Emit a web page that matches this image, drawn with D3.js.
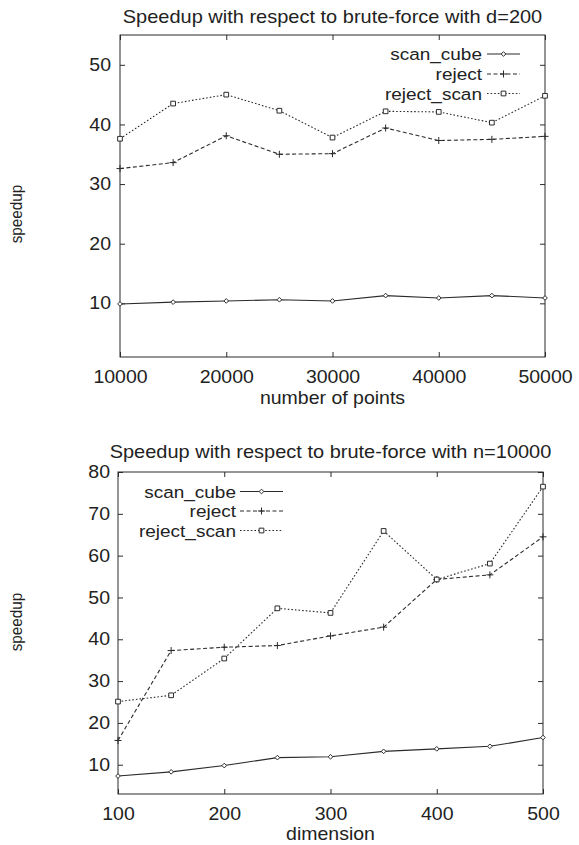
<!DOCTYPE html>
<html>
<head>
<meta charset="utf-8">
<script src="https://cdn.jsdelivr.net/npm/d3@7"></script>
<style>
  html, body { margin: 0; padding: 0; background: #fff; }
  svg { display: block; }
  text { font-family: "Liberation Sans", Arial, Helvetica, sans-serif; fill: #222; }
</style>
</head>
<body>
<svg id="chart" width="579" height="845"></svg>
<script>
// Series names shared by both panels
const seriesNames = ["scan_cube", "reject", "reject_scan"];

// Panel 1: speedup vs number of points (d = 200)
const pointCounts      = [10000, 15000, 20000, 25000, 30000, 35000, 40000, 45000, 50000];
const pointsScanCube   = [9.9, 10.2, 10.4, 10.6, 10.4, 11.3, 10.9, 11.3, 10.9];
const pointsReject     = [32.6, 33.6, 38.1, 35.0, 35.1, 39.4, 37.3, 37.5, 38.0];
const pointsRejectScan = [37.6, 43.5, 45.0, 42.3, 37.8, 42.2, 42.1, 40.3, 44.8];
const pointTicksX = [10000, 20000, 30000, 40000, 50000];
const pointTicksY = [10, 20, 30, 40, 50];

// Panel 2: speedup vs dimension (n = 10000)
const dimensions    = [100, 150, 200, 250, 300, 350, 400, 450, 500];
const dimScanCube   = [7.3, 8.3, 9.8, 11.7, 11.9, 13.2, 13.8, 14.4, 16.5];
const dimReject     = [15.8, 37.3, 38.1, 38.5, 40.8, 42.9, 54.3, 55.4, 64.5];
const dimRejectScan = [25.1, 26.6, 35.4, 47.4, 46.3, 65.9, 54.3, 58.1, 76.5];
const dimTicksX = [100, 200, 300, 400, 500];
const dimTicksY = [10, 20, 30, 40, 50, 60, 70, 80];

const ink = "#2b2b2b";
const FONT = 19.5;
const LEGEND_FONT = 19;
const TITLE_FONT = 20;
const SQUASH = 0.9;   // glyphs are slightly shorter than they are wide

// line style and marker per series
const styles = [
  { dash: null,    marker: "diamond" },
  { dash: "4,2.5", marker: "plus" },
  { dash: "1.6,2", marker: "square" }
];

const panels = [
  {
    title: "Speedup with respect to brute-force with d=200",
    xLabel: "number of points", yLabel: "speedup",
    xs: pointCounts, series: [pointsScanCube, pointsReject, pointsRejectScan],
    ticksX: pointTicksX, ticksY: pointTicksY,
    xDomain: [10000, 50000], yDomain: [1, 55],
    box: { left: 120, right: 545, top: 35, bottom: 357 },
    titleY: 23, xTickBase: 26.5, yTickPad: 9, xLabelY: 404, yLabelX: 22, yLabelY: 214,
    legend: { textRight: 482, lineX0: 487, lineX1: 520, baselines: [60, 80, 99.5] }
  },
  {
    title: "Speedup with respect to brute-force with n=10000",
    xLabel: "dimension", yLabel: "speedup",
    xs: dimensions, series: [dimScanCube, dimReject, dimRejectScan],
    ticksX: dimTicksX, ticksY: dimTicksY,
    xDomain: [100, 500], yDomain: [3, 80],
    box: { left: 118, right: 543, top: 472, bottom: 794 },
    titleY: 458, xTickBase: 26, yTickPad: 8, xLabelY: 840, yLabelX: 22, yLabelY: 622,
    legend: { textRight: 236, lineX0: 240, lineX1: 283, baselines: [497.5, 517, 536.5] }
  }
];

const svg = d3.select("#chart");

// text placed at (x, y) with the vertical squash applied around its baseline
function label(g, x, y, str, size, anchor, rotate) {
  return g.append("text")
    .attr("transform", `translate(${x},${y}) scale(1,${SQUASH})` + (rotate ? ` rotate(${rotate})` : ""))
    .attr("text-anchor", anchor).attr("font-size", size).text(str);
}

function drawMarker(g, kind, cx, cy) {
  if (kind === "diamond") {
    g.append("path")
      .attr("d", d3.symbol(d3.symbolDiamond2, 14)())
      .attr("transform", `translate(${cx},${cy})`)
      .attr("fill", "#fff").attr("stroke", ink).attr("stroke-width", 1);
  } else if (kind === "plus") {
    g.append("path")
      .attr("d", `M${cx - 3.5},${cy}H${cx + 3.5}M${cx},${cy - 3.5}V${cy + 3.5}`)
      .attr("stroke", ink).attr("stroke-width", 1).attr("fill", "none");
  } else {
    g.append("path")
      .attr("d", d3.symbol(d3.symbolSquare2, 28)())
      .attr("transform", `translate(${cx},${cy})`)
      .attr("fill", "#fff").attr("stroke", ink).attr("stroke-width", 1);
  }
}

panels.forEach(p => {
  const b = p.box;
  const x = d3.scaleLinear().domain(p.xDomain).range([b.left, b.right]);
  const y = d3.scaleLinear().domain(p.yDomain).range([b.bottom, b.top]);
  const g = svg.append("g");

  const axisStyle = sel => {
    sel.select(".domain").remove();
    sel.selectAll(".tick line").attr("stroke", ink);
    sel.selectAll("text").attr("font-size", FONT).attr("fill", "#222")
      .attr("font-family", "Liberation Sans, Arial, sans-serif");
  };

  // bottom axis: inward ticks, labels below the frame
  const xPad = p.xTickBase / SQUASH - 0.71 * FONT;
  g.append("g").attr("transform", `translate(0,${b.bottom})`)
    .call(d3.axisBottom(x).tickValues(p.ticksX).tickSizeInner(-5).tickSizeOuter(0)
      .tickPadding(xPad).tickFormat(d3.format("d")))
    .call(axisStyle)
    .call(sel => sel.selectAll("text").attr("transform", `scale(1,${SQUASH})`));
  // mirrored ticks along the top
  g.append("g").attr("transform", `translate(0,${b.top})`)
    .call(d3.axisTop(x).tickValues(p.ticksX).tickSizeInner(-5).tickSizeOuter(0).tickFormat(""))
    .call(axisStyle);
  // left axis with labels
  g.append("g").attr("transform", `translate(${b.left},0)`)
    .call(d3.axisLeft(y).tickValues(p.ticksY).tickSizeInner(-5).tickSizeOuter(0)
      .tickPadding(p.yTickPad).tickFormat(d3.format("d")))
    .call(axisStyle)
    .call(sel => sel.selectAll("text").attr("transform", `scale(1,${SQUASH})`));
  // mirrored ticks on the right
  g.append("g").attr("transform", `translate(${b.right},0)`)
    .call(d3.axisRight(y).tickValues(p.ticksY).tickSizeInner(-5).tickSizeOuter(0).tickFormat(""))
    .call(axisStyle);

  // frame
  g.append("rect")
    .attr("x", b.left).attr("y", b.top)
    .attr("width", b.right - b.left).attr("height", b.bottom - b.top)
    .attr("fill", "none").attr("stroke", ink).attr("stroke-width", 1);

  // titles and axis labels
  const cx = (b.left + b.right) / 2;
  label(g, cx, p.titleY, p.title, TITLE_FONT, "middle");
  label(g, cx, p.xLabelY, p.xLabel, FONT, "middle");
  g.append("text")
    .attr("transform", `translate(${p.yLabelX},${p.yLabelY}) scale(1,${SQUASH}) rotate(-90)`)
    .attr("text-anchor", "middle").attr("font-size", 17).text(p.yLabel);

  // series lines and markers
  const line = d3.line().x(d => x(d[0])).y(d => y(d[1]));
  p.series.forEach((vals, i) => {
    const pts = p.xs.map((xv, j) => [xv, vals[j]]);
    g.append("path").datum(pts)
      .attr("d", line)
      .attr("fill", "none").attr("stroke", ink).attr("stroke-width", 1.1)
      .attr("stroke-dasharray", styles[i].dash);
    pts.forEach(d => drawMarker(g, styles[i].marker, x(d[0]), y(d[1])));
  });

  // legend
  const L = p.legend;
  seriesNames.forEach((name, i) => {
    const by = L.baselines[i];
    label(g, L.textRight, by, name, LEGEND_FONT, "end");
    const ly = by - 6;
    g.append("line").attr("x1", L.lineX0).attr("x2", L.lineX1)
      .attr("y1", ly).attr("y2", ly)
      .attr("stroke", ink).attr("stroke-width", 1.1)
      .attr("stroke-dasharray", styles[i].dash);
    drawMarker(g, styles[i].marker, (L.lineX0 + L.lineX1) / 2, ly);
  });
});
</script>
</body>
</html>
